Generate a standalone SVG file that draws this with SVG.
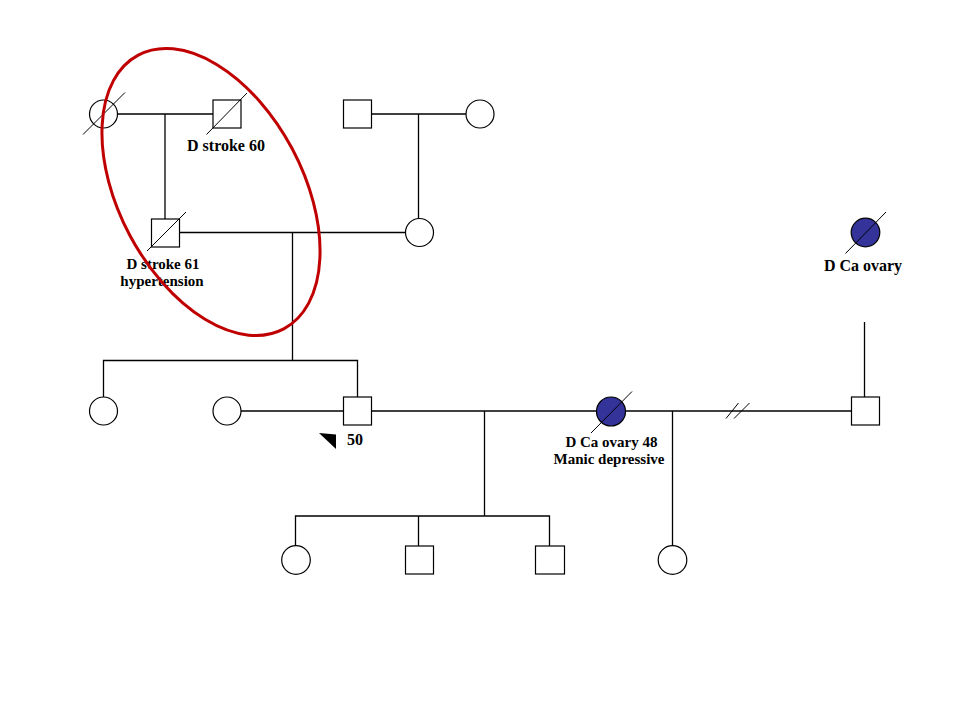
<svg xmlns="http://www.w3.org/2000/svg" width="960" height="720" viewBox="0 0 960 720">
<style>
.ln{stroke:#000;stroke-width:1.3;fill:none}
.sl{stroke:#000;stroke-width:1;fill:none}
.m{fill:#fff;stroke:#000;stroke-width:1.2}
.a{fill:#333399;stroke:#000;stroke-width:1.2}
.t{font-family:"Liberation Serif","Times New Roman",serif;font-weight:bold;font-size:16px;fill:#000;text-anchor:middle}
.t2{font-size:15px}
</style>
<rect width="960" height="720" fill="#fff"/>
<g id="connectors">
<line class="ln" x1="117" y1="114" x2="213" y2="114"/>
<line class="ln" x1="165" y1="114" x2="165" y2="219"/>
<line class="ln" x1="371" y1="114" x2="466" y2="114"/>
<line class="ln" x1="418.5" y1="114" x2="418.5" y2="218"/>
<line class="ln" x1="179" y1="232.5" x2="405" y2="232.5"/>
<line class="ln" x1="292.5" y1="232.5" x2="292.5" y2="360.5"/>
<polyline class="ln" points="103.5,397 103.5,360.5 357.5,360.5 357.5,397"/>
<line class="ln" x1="241" y1="411" x2="343" y2="411"/>
<line class="ln" x1="371" y1="411" x2="597" y2="411"/>
<line class="ln" x1="625" y1="411" x2="851" y2="411"/>
<line class="sl" x1="726" y1="418.5" x2="738.5" y2="403"/>
<line class="sl" x1="734" y1="418.5" x2="749.5" y2="403"/>
<line class="ln" x1="864.5" y1="322" x2="864.5" y2="397"/>
<line class="ln" x1="484.5" y1="411" x2="484.5" y2="516"/>
<polyline class="ln" points="295.5,546 295.5,516 549.5,516 549.5,546"/>
<line class="ln" x1="418.5" y1="516" x2="418.5" y2="546"/>
<line class="ln" x1="672.5" y1="411" x2="672.5" y2="546"/>
</g>
<g id="n-gp1-f">
<circle class="m" cx="103.5" cy="114" r="14"/>
<line class="sl" x1="83" y1="134.5" x2="125" y2="92.5"/>
</g>
<g id="n-gp1-m">
<rect class="m" x="213" y="100" width="28" height="28"/>
<line class="sl" x1="206.5" y1="134.5" x2="247" y2="93"/>
<text class="t" x="226" y="151">D stroke 60</text>
</g>
<g id="n-gp2-m">
<rect class="m" x="343.5" y="100" width="28" height="28"/>
</g>
<g id="n-gp2-f">
<circle class="m" cx="480" cy="114" r="14"/>
</g>
<g id="n-father">
<rect class="m" x="151.5" y="219" width="28" height="28"/>
<line class="sl" x1="147" y1="251" x2="186" y2="212"/>
<text class="t t2" x="163" y="269">D stroke 61</text>
<text class="t t2" x="162" y="286">hypertension</text>
</g>
<g id="n-mother">
<circle class="m" cx="419.5" cy="232.5" r="14"/>
</g>
<g id="n-aunt">
<circle class="a" cx="865.5" cy="232.5" r="14.3"/>
<line class="sl" x1="845.5" y1="253.5" x2="886" y2="212"/>
<text class="t" x="863" y="271">D Ca ovary</text>
</g>
<g id="n-sib1">
<circle class="m" cx="103.5" cy="411" r="14"/>
</g>
<g id="n-wife1">
<circle class="m" cx="227" cy="411" r="14"/>
</g>
<g id="n-proband">
<rect class="m" x="343.5" y="397" width="28" height="28"/>
<polygon points="319,433 336,434.5 336,449" fill="#000"/>
<text class="t" x="355" y="445">50</text>
</g>
<g id="n-wife2">
<circle class="a" cx="611" cy="411.5" r="14.5"/>
<line class="sl" x1="591" y1="433" x2="632" y2="391.5"/>
<text class="t t2" x="611.5" y="447">D Ca ovary 48</text>
<text class="t t2" x="609" y="464">Manic depressive</text>
</g>
<g id="n-man">
<rect class="m" x="851.5" y="397" width="28" height="28"/>
</g>
<g id="n-c1">
<circle class="m" cx="296" cy="560" r="14.3"/>
</g>
<g id="n-c2">
<rect class="m" x="405.5" y="546" width="28" height="28"/>
</g>
<g id="n-c3">
<rect class="m" x="535.5" y="546" width="29" height="28"/>
</g>
<g id="n-c4">
<circle class="m" cx="672.5" cy="560" r="14.3"/>
</g>
<g id="highlight">
<ellipse cx="211" cy="192" rx="155" ry="92" transform="rotate(62 211 192)" fill="none" stroke="#c00000" stroke-width="3"/>
</g>
</svg>
